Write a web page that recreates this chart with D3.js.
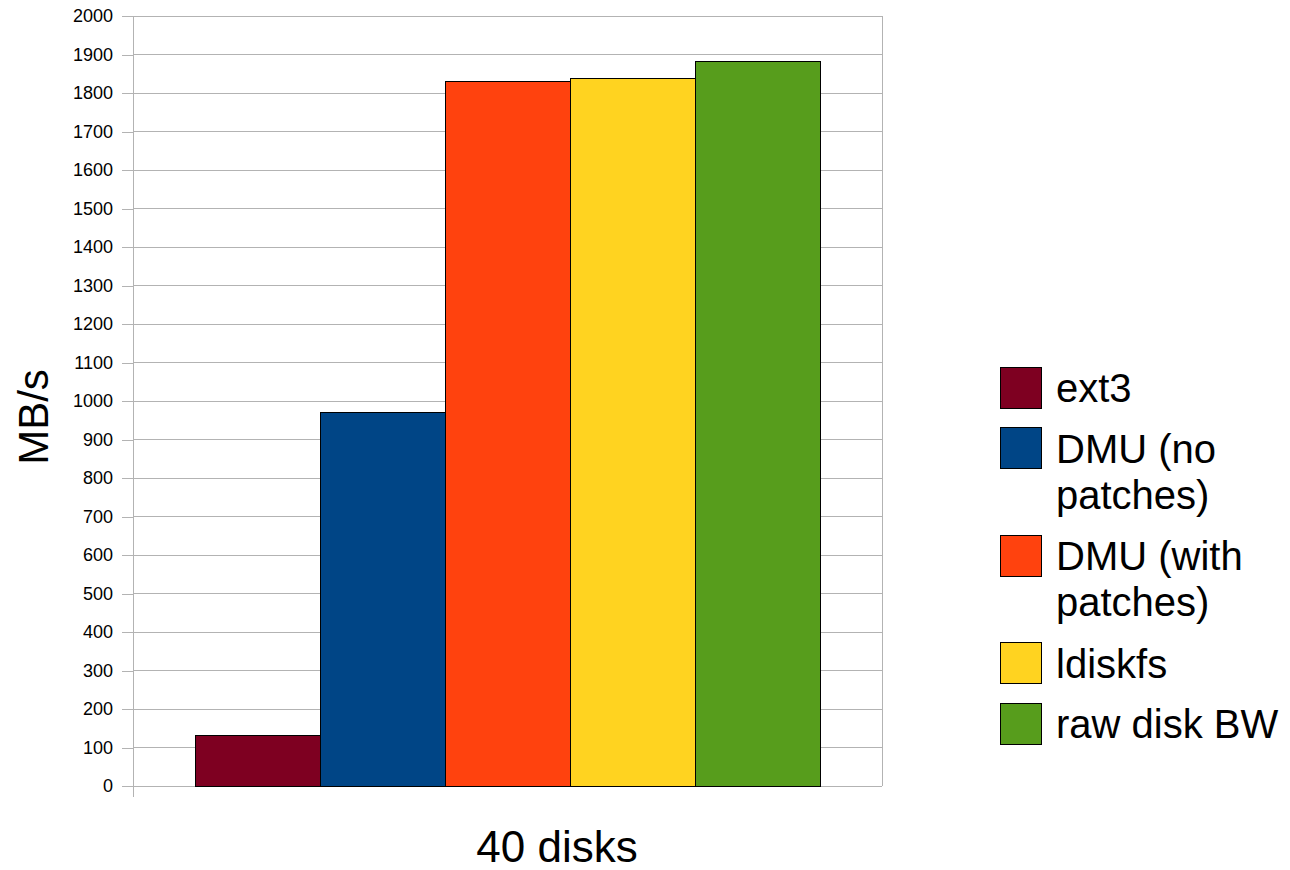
<!DOCTYPE html>
<html>
<head>
<meta charset="utf-8">
<script src="https://cdn.jsdelivr.net/npm/d3@7"></script>
<style>
  body { margin: 0; background: #fff; }
  svg { display: block; font-family: "Liberation Sans", Arial, sans-serif; }
</style>
</head>
<body>
<svg id="chart" width="1290" height="870"></svg>
<script>
const categories = ["40 disks"];
const seriesNames = ["ext3", "DMU (no patches)", "DMU (with patches)", "ldiskfs", "raw disk BW"];
const legendLines = [["ext3"], ["DMU (no", "patches)"], ["DMU (with", "patches)"], ["ldiskfs"], ["raw disk BW"]];
const seriesValues = [131, 970, 1829, 1838, 1881];
const seriesColors = ["#7e0021", "#004586", "#ff420e", "#ffd320", "#579d1c"];
const yTicks = d3.range(0, 2001, 100);
const yTitle = "MB/s";

(function () {
const svg = d3.select("#chart");
const pLeft = 133, pRight = 882, pTop = 16, pBottom = 786;

const y = d3.scaleLinear().domain([0, 2000]).range([pBottom, pTop]);
const x0 = d3.scaleBand().domain(categories).range([pLeft, pRight]).paddingInner(0).paddingOuter(0.0992);
const x1 = d3.scaleBand().domain(seriesNames).range([0, x0.bandwidth()]).padding(0);

// grid
svg.append("g").selectAll("line").data(yTicks).join("line")
  .attr("x1", pLeft).attr("x2", pRight)
  .attr("y1", d => y(d)).attr("y2", d => y(d))
  .attr("stroke", "#b3b3b3").attr("stroke-width", 1).attr("shape-rendering", "crispEdges");
// right border
svg.append("line").attr("x1", pRight).attr("x2", pRight).attr("y1", pTop).attr("y2", pBottom)
  .attr("stroke", "#b3b3b3").attr("shape-rendering", "crispEdges");

// y axis
const yAxis = d3.axisLeft(y).tickValues(yTicks).tickSize(11).tickPadding(9).tickFormat(d3.format("d"));
const ya = svg.append("g").attr("transform", `translate(${pLeft},0)`).call(yAxis);
ya.select(".domain").remove();
ya.selectAll(".tick line").attr("stroke", "#b3b3b3").attr("shape-rendering", "crispEdges");
ya.selectAll(".tick text").attr("font-size", 18).attr("fill", "#000")
  .attr("font-family", "Liberation Sans, Arial, sans-serif");
svg.append("line").attr("x1", pLeft).attr("x2", pLeft).attr("y1", pTop).attr("y2", pBottom + 11)
  .attr("stroke", "#b3b3b3").attr("shape-rendering", "crispEdges");

// bars
const g = svg.append("g");
categories.forEach(cat => {
  g.selectAll(null).data(seriesNames).join("rect")
    .attr("x", (s) => x0(cat) + x1(s))
    .attr("width", x1.bandwidth())
    .attr("y", (s, i) => y(seriesValues[i]))
    .attr("height", (s, i) => y(0) - y(seriesValues[i]))
    .attr("fill", (s, i) => seriesColors[i])
    .attr("stroke", "#000").attr("stroke-width", 1).attr("shape-rendering", "crispEdges");
});

// axis titles
svg.append("text").attr("x", 557).attr("y", 862).attr("text-anchor", "middle")
  .attr("font-size", 44).text(categories[0]);
svg.append("text").attr("transform", "translate(48,417) rotate(-90)").attr("text-anchor", "middle")
  .attr("font-size", 42).text(yTitle);

// legend
let ly = 367;
legendLines.forEach((lines, i) => {
  const lg = svg.append("g");
  lg.append("rect").attr("x", 1000).attr("y", ly).attr("width", 41).attr("height", 41)
    .attr("fill", seriesColors[i]).attr("stroke", "#000").attr("stroke-width", 1).attr("shape-rendering", "crispEdges");
  lines.forEach((t, j) => {
    lg.append("text").attr("x", 1056).attr("y", ly + 35 + j * 46).attr("font-size", 40).text(t);
  });
  ly += 60.5 + (lines.length - 1) * 47;
});
})();
</script>
</body>
</html>
